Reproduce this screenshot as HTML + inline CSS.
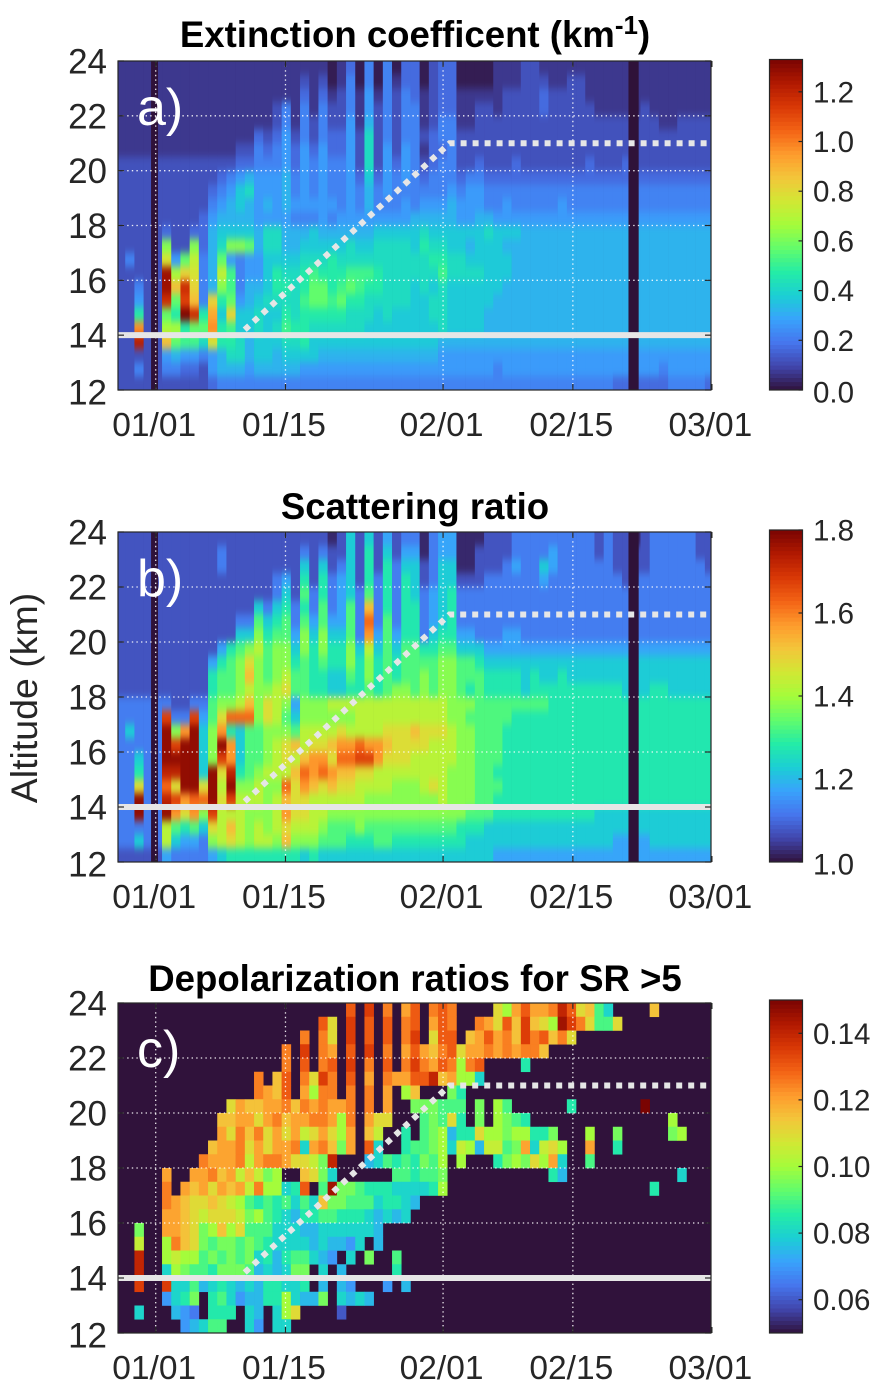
<!DOCTYPE html>
<html lang="en">
<head>
<meta charset="utf-8">
<title>Extinction, scattering ratio and depolarization time-altitude charts</title>
<style>
html,body{margin:0;padding:0;background:#fff;width:880px;height:1389px;overflow:hidden}
svg{display:block;font-family:"Liberation Sans",Arial,sans-serif}
</style>
</head>
<body>
<svg id="figure" xmlns="http://www.w3.org/2000/svg" width="880" height="1389" viewBox="0 0 880 1389"></svg>
<script>
// Colour table sampled from the colorbars
const turboStops = ["#30123b","#4145ab","#4675ed","#39a2fc","#1bcfd4","#24eca6","#61fc6c","#a4fc3b","#d1e834","#f3c63a","#fe9b2d","#f36315","#d93806","#b11901","#7a0402"];
// Axis labels
const dayTickLabels = ["01/01","01/15","02/01","02/15","03/01"];
const dayTickValues = [0,14,31,45,60];
const altitudeTicks = [12,14,16,18,20,22,24];
const gridAltitudes = [16,18,20,22];
// Overlay lines
const referenceAltitude = 14;
const plumeDays = [9.6,31.7,60];
const plumeAltitudes = [14.2,21,21];
// Instrument gaps, in days since 01/01
const gapStartDays = [-0.5,51];
const gapEndDays = [0.25,52.1];
// Heat-map values: rows run from 24 km down to 12 km in 0.5 km steps, columns are daily.
// Value = level × unit + offset.
const extinctionLevels = [
[2,2,2,2,2,2,2,2,2,2,2,2,2,2,2,2,2,2,2,2,2,2,2,1,2,4,1,5,1,5,1,4,4,1,3,4,4,1,1,1,1,2,2,2,3,3,2,2,2,2,2,2,2,2,2,2,2,2,2,2,2,2,2,2,2],
[2,2,2,2,2,2,2,2,2,2,2,2,2,2,2,2,2,2,2,2,3,2,3,1,2,5,1,5,1,5,2,4,4,1,3,4,4,1,1,1,1,2,2,2,3,3,3,2,2,3,3,2,2,2,2,2,2,2,2,2,2,2,2,2,2],
[2,2,2,2,2,2,2,2,2,2,2,2,2,2,2,2,2,2,2,2,4,2,4,2,3,5,2,6,2,5,3,5,4,2,3,4,4,2,2,2,2,2,3,3,3,3,4,3,3,3,3,2,2,2,2,2,2,2,2,2,2,2,2,2,2],
[2,2,2,2,2,2,2,2,2,2,2,2,2,2,2,2,2,3,5,2,5,2,5,3,3,5,2,6,3,5,3,5,5,2,3,4,4,2,2,3,3,2,3,3,3,3,4,3,3,3,3,3,2,2,2,2,2,3,2,2,2,2,2,2,2],
[2,2,2,2,2,2,2,2,2,2,2,2,2,2,2,2,2,3,5,2,5,3,5,3,3,6,2,7,3,5,3,5,5,2,3,5,5,2,2,3,3,3,3,3,3,3,3,3,3,3,3,3,3,3,3,3,3,3,3,2,2,3,3,3,3],
[2,2,2,2,2,2,2,2,2,2,2,2,2,2,2,4,3,4,6,3,5,3,5,4,4,6,3,9,3,5,3,5,5,3,4,5,5,3,3,3,3,3,3,3,3,3,3,3,3,3,3,3,3,3,3,3,3,3,3,3,3,3,3,3,3],
[2,2,2,2,2,2,2,2,2,2,2,2,2,3,3,5,4,5,6,4,6,4,6,4,4,6,3,9,3,6,3,6,5,2,4,4,5,3,3,3,3,3,3,3,3,3,3,3,3,3,3,3,3,3,3,3,3,3,3,3,3,3,3,3,3],
[3,3,3,3,3,3,3,3,3,3,3,3,3,4,4,5,5,5,6,4,6,5,6,5,5,6,3,9,3,6,4,6,5,3,4,5,5,3,3,4,3,3,3,4,3,3,3,3,3,3,3,4,3,3,3,4,3,3,3,3,3,3,3,3,3],
[3,3,3,3,3,3,3,3,3,3,3,4,5,6,7,6,6,6,7,5,6,5,6,5,5,6,4,8,4,6,5,6,5,4,5,5,5,4,5,5,4,4,4,4,4,4,4,4,4,4,4,4,4,4,4,4,4,4,4,4,4,4,4,4,4],
[3,3,3,3,3,3,3,3,3,3,4,5,6,8,9,6,6,6,7,5,6,5,6,5,5,6,5,7,5,6,5,5,5,5,5,5,6,5,6,6,5,5,5,5,5,5,5,5,5,5,5,5,5,5,5,5,5,5,5,5,5,5,5,5,5],
[3,3,3,3,3,3,3,3,3,3,5,6,7,8,7,6,7,6,7,6,6,6,6,6,5,6,5,7,5,5,5,6,5,6,6,6,7,6,6,6,5,5,6,5,5,5,5,5,6,5,5,5,5,5,5,5,5,5,5,5,5,5,5,5,5],
[3,3,3,3,3,3,3,3,3,4,6,7,7,7,7,6,6,6,6,5,5,5,6,5,6,6,6,6,6,6,6,6,7,7,7,7,7,6,6,7,7,6,6,6,6,6,6,6,6,6,6,6,6,6,6,6,6,6,6,6,6,6,6,6,6],
[3,3,3,3,3,4,3,3,4,4,7,8,8,8,8,7,9,9,7,7,7,8,7,7,7,7,7,7,8,8,8,8,8,9,8,8,8,8,8,8,9,8,8,8,7,7,7,7,7,7,7,7,7,7,7,7,7,7,7,7,7,7,7,7,7],
[3,3,3,3,3,13,3,3,13,4,7,9,13,13,12,7,9,9,7,7,8,8,8,8,8,9,8,8,9,9,9,9,8,10,9,9,8,8,7,8,8,8,7,7,7,7,7,7,7,7,7,7,7,7,7,7,7,7,7,7,7,7,7,7,7],
[3,5,3,3,3,16,6,12,15,5,7,12,6,5,6,6,8,8,8,8,9,9,9,10,9,9,9,9,9,9,9,9,9,9,10,10,9,9,8,8,8,8,8,7,7,7,7,7,7,7,7,7,7,7,7,7,7,7,7,7,7,7,7,7,7],
[3,3,3,3,3,26,14,17,16,5,7,15,11,5,6,6,8,10,9,9,10,11,10,10,10,11,11,11,10,9,9,9,9,9,9,11,9,9,9,9,8,8,8,7,7,7,7,7,7,7,7,7,7,7,7,7,7,7,7,7,7,7,7,7,7],
[3,3,5,3,3,26,18,24,17,5,7,13,11,5,7,7,8,10,10,9,10,12,12,10,11,12,11,10,10,9,9,9,8,9,8,9,8,8,8,8,8,8,7,7,7,7,7,7,7,7,7,7,7,7,7,7,7,7,7,7,7,7,7,7,7],
[3,3,6,3,3,24,12,23,18,5,17,10,12,6,7,8,9,9,9,9,11,12,12,11,12,10,10,9,9,9,9,9,8,8,9,9,8,8,8,8,8,7,7,7,7,7,7,7,7,7,7,7,7,7,7,7,7,7,7,7,7,7,7,7,7],
[3,3,10,3,3,12,10,27,24,10,19,8,17,8,8,9,8,8,10,9,10,10,10,10,10,9,9,9,8,9,8,8,8,8,9,9,8,8,8,8,7,7,7,7,7,7,7,7,7,7,7,7,7,7,7,7,7,7,7,7,7,7,7,7,7],
[3,3,20,3,3,14,14,10,12,12,20,10,11,8,8,9,8,9,11,10,10,9,9,9,9,9,9,8,8,8,8,8,8,8,8,9,8,8,8,8,7,7,7,7,7,7,7,7,7,7,7,7,7,7,7,7,7,7,7,7,7,7,7,7,7],
[3,3,25,3,3,18,12,11,11,9,16,10,10,9,7,8,8,8,9,9,10,8,8,8,8,8,8,8,8,8,8,8,8,8,8,7,7,7,7,7,7,7,7,7,7,7,7,7,7,7,7,7,7,7,7,7,7,7,7,7,7,7,7,7,7],
[3,3,3,3,3,6,7,6,6,5,6,7,9,9,7,8,8,7,8,8,8,8,7,7,7,7,7,7,7,7,7,7,7,7,7,6,6,6,6,6,6,6,6,6,6,6,6,6,6,6,6,6,6,6,6,6,6,6,6,6,6,6,6,6,6],
[3,3,5,3,3,5,5,4,4,3,6,7,7,7,6,7,7,7,7,7,6,6,6,6,6,6,6,6,6,6,6,6,6,6,6,6,6,6,6,6,6,5,6,6,6,6,6,6,6,6,6,6,6,6,6,6,6,6,6,5,6,6,6,6,6],
[3,3,3,3,3,3,3,3,3,3,4,5,5,5,5,5,5,5,5,5,5,5,5,5,5,5,5,5,5,5,5,5,5,5,5,5,5,5,5,5,5,5,5,5,5,5,5,5,5,5,5,5,5,5,4,4,4,4,4,4,5,5,5,5,4]
];
const scatteringLevels = [
[2,2,2,2,2,2,2,2,2,2,2,2,2,2,2,2,2,2,2,2,2,2,2,1,2,5,2,5,2,4,2,3,3,1,3,4,4,1,1,1,2,2,2,3,3,3,3,3,3,3,3,3,2,3,2,2,1,2,3,3,3,3,3,2,2],
[2,2,2,2,2,2,2,2,2,2,2,3,2,2,2,2,2,2,2,2,3,2,3,2,2,5,2,6,2,5,2,4,4,1,3,4,4,1,1,2,2,2,2,3,3,3,3,4,3,3,3,3,2,3,2,2,2,2,3,3,3,3,3,2,2],
[2,2,2,2,2,2,2,2,2,2,2,3,2,2,2,2,2,2,2,2,5,2,5,2,3,5,2,6,2,6,3,5,5,2,3,5,5,1,1,2,2,2,3,4,3,3,5,4,3,3,3,3,3,3,2,2,2,2,3,3,3,3,3,3,2],
[2,2,2,2,2,2,2,2,2,2,2,2,2,2,2,2,2,3,4,2,6,2,6,3,4,5,2,6,3,6,3,6,5,2,3,5,5,2,2,2,3,3,3,3,3,3,4,3,3,3,3,3,3,3,3,2,3,3,3,3,3,3,3,3,3],
[2,2,2,2,2,2,2,2,2,2,2,2,2,2,2,2,2,3,5,2,7,3,6,3,4,5,3,7,3,6,3,6,5,3,4,5,6,3,3,3,3,3,3,3,3,3,3,3,3,3,3,3,3,3,3,3,3,3,3,3,3,3,3,3,3],
[2,2,2,2,2,2,2,2,2,2,2,2,2,2,2,5,3,5,6,3,6,3,7,3,4,7,3,11,3,6,3,6,6,3,4,5,6,3,3,3,3,3,3,3,3,3,3,3,3,3,3,3,3,3,3,3,3,3,3,3,3,3,3,3,3],
[2,2,2,2,2,2,2,2,2,2,2,2,2,3,3,7,5,6,7,3,7,4,7,4,4,7,3,13,3,7,3,6,6,3,4,5,6,3,3,3,3,3,3,3,3,3,3,3,3,3,3,3,3,3,3,3,3,3,3,3,3,3,3,3,3],
[2,2,2,2,2,2,2,2,2,2,2,2,2,5,5,8,6,7,7,4,8,5,8,5,5,7,3,12,4,7,4,6,6,3,5,6,6,4,4,3,3,3,4,4,3,3,3,3,3,3,3,3,3,3,3,3,3,3,3,3,3,3,3,3,3],
[2,2,2,2,2,2,2,2,2,2,2,4,6,7,8,9,7,8,8,5,8,6,8,6,6,8,5,9,5,7,5,7,7,6,6,7,7,5,5,5,4,4,4,4,4,4,4,4,4,4,4,4,4,4,4,4,4,4,4,4,4,4,4,4,4],
[2,2,2,2,2,2,2,2,2,2,4,6,7,8,10,8,7,8,8,6,7,6,7,6,6,8,6,8,6,7,6,7,7,7,7,8,8,7,7,6,5,5,5,5,5,5,5,5,5,5,5,5,5,5,5,5,5,5,5,5,5,5,5,5,5],
[2,2,2,2,2,2,2,2,2,2,6,7,7,8,11,8,7,8,9,7,7,6,6,5,5,7,6,8,6,7,6,7,7,8,7,8,8,7,7,7,6,6,6,6,5,6,5,5,6,5,5,5,5,5,5,5,5,5,5,5,5,5,5,5,5],
[2,2,2,2,2,2,2,2,2,2,6,7,7,8,9,8,8,9,10,7,7,6,6,5,5,6,6,7,6,7,8,8,7,8,7,8,8,7,6,7,6,6,6,6,5,6,6,6,6,6,6,6,6,6,6,5,5,5,6,6,5,5,5,5,5],
[3,3,3,3,3,3,2,2,3,3,7,8,8,9,11,8,10,9,8,4,8,8,8,9,9,9,9,9,9,9,9,9,9,9,9,9,8,8,8,7,7,7,7,7,7,7,7,6,6,6,6,6,6,6,6,6,6,6,6,6,6,6,6,6,6],
[3,3,3,3,3,14,3,3,14,4,7,10,13,13,13,8,10,9,7,5,8,8,8,8,8,8,9,9,9,9,9,9,9,9,9,9,8,8,7,7,7,7,7,6,6,6,6,6,6,6,6,6,6,6,6,6,6,6,6,6,6,6,6,6,6],
[3,5,3,3,3,16,8,12,16,5,8,12,6,5,7,7,8,8,8,7,9,9,9,9,10,9,9,9,9,10,10,10,11,10,10,10,9,8,8,7,7,7,6,6,6,6,6,6,6,6,6,6,6,6,6,6,6,6,6,6,6,6,6,6,6],
[3,3,3,3,3,16,14,16,16,5,8,16,12,5,7,7,8,9,10,11,9,10,10,11,12,12,13,12,12,11,10,10,10,10,9,9,9,8,8,7,7,7,6,6,6,6,6,6,6,6,6,6,6,6,6,6,6,6,6,6,6,6,6,6,6],
[3,3,5,3,3,16,16,16,16,5,8,14,12,5,7,7,8,9,10,9,11,12,12,10,13,13,14,14,12,10,10,10,9,9,9,9,9,8,8,7,7,7,6,6,6,6,6,6,6,6,6,6,6,6,6,6,6,6,6,6,6,6,6,6,6],
[3,3,6,3,3,15,15,16,16,5,16,10,15,6,7,8,9,9,9,11,13,12,13,12,11,11,10,10,9,9,9,9,9,9,9,9,8,8,8,7,7,6,6,6,6,6,6,6,6,6,6,6,6,6,6,6,6,6,6,6,6,6,6,6,6],
[3,3,10,3,3,13,10,16,16,10,16,9,16,8,8,9,8,8,13,10,12,11,10,11,10,10,9,9,9,9,8,8,8,9,10,9,8,8,8,7,7,7,6,6,6,6,6,6,6,6,6,6,6,6,6,6,6,6,6,6,6,6,6,6,6],
[3,3,16,3,3,15,14,12,13,13,16,10,14,9,9,9,8,9,11,10,10,9,9,9,9,9,9,8,8,8,8,8,8,8,8,9,8,8,8,7,7,6,6,6,6,6,6,6,6,6,6,6,6,6,6,6,6,6,6,6,6,6,6,6,6],
[3,3,16,3,3,16,12,10,12,8,14,9,9,9,8,8,8,9,12,10,10,9,9,8,8,8,8,8,8,8,8,8,8,8,8,8,8,8,7,7,7,6,6,6,6,6,6,6,6,6,6,6,5,5,5,5,5,5,5,5,5,5,5,5,5],
[3,3,3,3,3,9,7,6,7,5,10,9,11,9,8,9,8,9,10,9,9,9,8,7,7,7,8,7,7,7,7,7,7,7,7,7,7,6,6,6,5,5,5,5,5,5,5,5,5,5,5,5,5,5,5,5,5,5,5,5,5,5,5,5,5],
[3,3,5,3,3,9,5,4,4,3,8,9,10,9,8,9,9,8,11,8,8,8,7,7,7,6,6,6,7,7,6,6,6,6,6,6,6,6,5,5,5,5,5,5,5,5,5,5,5,5,5,5,5,5,4,4,4,4,5,5,5,5,5,5,5],
[2,2,2,2,2,4,3,3,3,3,4,5,6,6,6,6,6,6,6,6,5,6,5,5,5,5,5,5,5,5,5,5,5,5,5,5,5,5,5,5,5,4,4,4,4,4,4,4,4,4,4,4,4,4,4,4,4,4,4,4,4,4,4,4,4]
];
const depolarizationLevels = [
[0,0,0,0,0,0,0,0,0,0,0,0,0,0,0,0,0,0,0,0,0,0,0,0,0,16,0,17,0,15,0,14,16,0,15,16,15,0,0,0,0,12,10,14,16,14,14,15,18,16,12,13,8,6,0,0,0,0,13],
[0,0,0,0,0,0,0,0,0,0,0,0,0,0,0,0,0,0,0,0,0,0,16,12,0,17,0,16,0,16,0,15,16,0,14,16,15,0,0,15,14,12,16,13,17,13,12,10,19,17,15,12,8,8,12],
[0,0,0,0,0,0,0,0,0,0,0,0,0,0,0,0,0,0,0,0,15,0,15,12,0,17,0,16,0,16,0,15,17,0,12,16,16,0,13,14,16,14,15,13,17,15,16,13,15,12],
[0,0,0,0,0,0,0,0,0,0,0,0,0,0,0,0,0,0,15,0,17,0,15,14,0,16,0,17,0,15,0,14,16,14,13,15,16,12,14,14,15,14,15,14,15,15,13],
[0,0,0,0,0,0,0,0,0,0,0,0,0,0,0,0,0,0,15,0,16,0,15,16,0,17,0,15,0,16,0,15,17,15,14,16,15,10,15,16,0,0,0,0,7],
[0,0,0,0,0,0,0,0,0,0,0,0,0,0,0,15,0,13,16,0,15,12,17,15,0,16,0,14,0,15,14,14,16,16,18,13,14,10,10,6],
[0,0,0,0,0,0,0,0,0,0,0,0,0,0,0,15,14,13,16,0,14,10,15,15,0,15,0,15,0,14,0,10,13,0,0,0,9,7],
[0,0,0,0,0,0,0,0,0,0,0,0,12,14,13,13,14,14,15,13,15,14,15,14,14,15,0,15,0,14,0,0,9,9,9,8,8,8,0,9,0,10,8,0,0,0,0,0,0,7,0,0,0,0,0,0,0,20],
[0,0,0,0,0,0,0,0,0,0,0,13,13,14,14,12,14,15,13,14,14,15,15,14,10,15,0,14,12,12,0,0,0,8,9,8,12,7,0,9,0,10,9,8,7,0,0,0,0,0,0,0,0,0,0,0,0,0,0,0,10],
[0,0,0,0,0,0,0,0,0,0,0,14,12,15,13,15,12,14,12,14,11,12,14,12,10,14,0,13,11,0,0,7,0,8,9,10,5,7,7,12,10,10,9,10,10,7,7,9,0,0,0,10,0,0,9,0,0,0,0,0,9,10],
[0,0,0,0,0,0,0,0,0,0,13,14,14,15,12,14,12,14,14,15,6,14,15,13,9,14,0,16,6,0,0,7,8,8,9,10,6,11,10,5,11,11,8,9,14,6,11,12,10,0,0,14,0,0,7],
[0,0,0,0,0,0,0,0,0,15,14,14,14,15,11,14,15,15,14,12,12,11,9,18,0,0,0,5,6,8,7,8,7,9,8,10,0,10,0,0,0,7,9,10,9,12,10,14,6,0,0,8],
[0,0,0,0,0,14,0,0,14,14,15,13,14,11,13,11,9,10,0,0,13,12,9,6,0,0,0,0,0,0,8,8,7,8,8,9,0,0,0,0,0,0,0,0,0,0,0,7,5,0,0,0,0,0,0,0,0,0,0,0,0,6],
[0,0,0,0,0,15,0,14,13,14,12,14,13,14,11,15,10,10,6,7,16,0,8,19,9,9,8,7,7,7,6,6,6,6,7,10,0,0,0,0,0,0,0,0,0,0,0,0,0,0,0,0,0,0,0,0,0,0,7],
[0,0,0,0,0,15,14,13,12,12,13,12,11,10,8,7,8,7,8,6,8,6,13,9,9,8,8,8,6,7,7,6,5],
[0,0,0,0,0,14,14,13,12,11,12,12,12,11,9,10,8,7,6,5,7,7,8,8,7,7,7,6,5,6,5,6],
[0,0,9,0,0,14,14,13,12,9,10,13,10,12,8,8,8,6,6,6,5,5,6,6,6,6,6,6,5],
[0,0,11,0,0,10,15,13,12,9,8,9,9,8,9,8,7,6,6,6,6,5,6,5,5,4,6,0,5],
[0,0,18,0,0,10,11,10,10,8,9,8,9,8,9,6,7,5,7,8,8,6,5,4,0,6,0,9,0,0,8],
[0,0,18,0,0,6,10,9,8,8,7,9,9,9,8,5,6,5,6,9,9,0,6,0,5,0,0,0,0,0,7],
[0,0,17,0,0,17,6,6,8,5,6,7,6,5,6,5,7,7,6,6,7,0,5,0,5,4,0,0,0,4,0,5],
[0,0,0,0,0,4,6,7,9,0,7,8,6,4,5,5,7,7,10,6,5,5,9,0,6,5,6,5],
[0,0,6,0,0,0,5,4,3,0,7,7,7,0,6,5,0,6,10,12,0,0,0,0,2],
[0,0,0,0,0,0,0,4,5,6,8,8,0,0,6,4,0,6,6]
];
// Panel scales
const extinctionScale = {min:0, max:1.33, unit:0.05, offset:-0.03};
const scatteringScale = {min:1, max:1.8, unit:0.05, offset:0.975};
const depolarizationScale = {min:0.05, max:0.15, unit:0.005, offset:0.05};
const extinctionBarTicks = ["0.0","0.2","0.4","0.6","0.8","1.0","1.2"];
const scatteringBarTicks = ["1.0","1.2","1.4","1.6","1.8"];
const depolarizationBarTicks = ["0.06","0.08","0.10","0.12","0.14"];

const svg = document.getElementById('figure');
const NS = 'http://www.w3.org/2000/svg';
const INK = '#262626';
const LEFT = 118, RIGHT = 711;
const xAxis = day => 155.7 + 9.27 * day;
const COLUMN_START_DAY = -4.28, COLUMN_SPAN_DAYS = 0.9925;

function make(tag, attrs, parent, text){
  const el = document.createElementNS(NS, tag);
  for (const k in attrs) el.setAttribute(k, attrs[k]);
  if (text !== undefined) el.textContent = text;
  parent.appendChild(el);
  return el;
}
function hexToRgb(h){ return [1,3,5].map(i => parseInt(h.substr(i,2),16)); }
function turbo(f){
  f = Math.max(0, Math.min(1, f)) * (turboStops.length - 1);
  const i = Math.min(Math.floor(f), turboStops.length - 2), t = f - i;
  const a = hexToRgb(turboStops[i]), b = hexToRgb(turboStops[i+1]);
  return 'rgb(' + a.map((v,k) => Math.round(v + (b[k]-v)*t)).join(',') + ')';
}

function drawPanel(cfg){
  const top = cfg.top, bottom = cfg.bottom;
  const yAxis = alt => bottom - (alt - 12) * (bottom - top) / 12;
  const g = make('g', {}, svg);
  
  
  const clipId = cfg.name + '-clip';
  const defs = make('defs', {}, g);
  const clip = make('clipPath', {id: clipId}, defs);
  make('rect', {x: LEFT, y: top, width: RIGHT - LEFT, height: bottom - top}, clip);
  if (cfg.smooth) {
    const filter = make('filter', {id: cfg.name + '-smooth', filterUnits: 'userSpaceOnUse', x: LEFT - 30, y: top - 40, width: RIGHT - LEFT + 60, height: bottom - top + 80, 'color-interpolation-filters': 'sRGB'}, defs);
    make('feGaussianBlur', {stdDeviation: '0.2 4'}, filter);
  }

  const title = make('text', {x: cfg.titleX, y: cfg.titleY, 'text-anchor': 'middle', 'font-size': cfg.titleSize, 'font-weight': 'bold', fill: '#000'}, g);
  
  
  title.appendChild(document.createTextNode(cfg.title));
  if (cfg.titleSup) {
    make('tspan', {dy: -13, 'font-size': 26}, title, cfg.titleSup);
    make('tspan', {dy: 13}, title, ')');
  }

  const plot = make('g', {'clip-path': 'url(#' + clipId + ')'}, g);
  
  
  const bg = make('rect', {x: LEFT, y: top, width: RIGHT - LEFT, height: bottom - top, fill: turboStops[0]}, plot);
  
  

  const scale = cfg.scale;
  const cells = make('g', cfg.smooth ? {filter: 'url(#' + cfg.name + '-smooth)'} : {}, plot);
  
  
  cfg.levels.forEach((row, r) => {
    const altTop = 24 - r * 0.5, altBottom = altTop - 0.5;
    const padTop = cfg.smooth && r === 0 ? 30 : 0;
    const padBottom = cfg.smooth && r === cfg.levels.length - 1 ? 30 : 0;
    row.forEach((level, c) => {
      if (cfg.zeroIsEmpty && level === 0) return;
      const value = scale.offset + level * scale.unit;
      const x0 = xAxis(COLUMN_START_DAY + c * COLUMN_SPAN_DAYS);
      const x1 = xAxis(COLUMN_START_DAY + (c + 1) * COLUMN_SPAN_DAYS);
      const cell = make('rect', {x: x0.toFixed(2), y: (yAxis(altTop) - padTop).toFixed(2), width: (x1 - x0 + 0.3).toFixed(2), height: (yAxis(altBottom) - yAxis(altTop) + 0.3 + padTop + padBottom).toFixed(2), fill: turbo((value - scale.min) / (scale.max - scale.min))}, cells);
      
      
    });
  });

  if (cfg.showGaps) {
    gapStartDays.forEach((d, i) => {
      const gap = make('rect', {x: xAxis(d), y: top, width: xAxis(gapEndDays[i]) - xAxis(d), height: bottom - top, fill: '#2f1239'}, plot);
      
      
    });
  }

  gridAltitudes.forEach(a => {
    const line = make('line', {x1: LEFT, x2: RIGHT, y1: yAxis(a), y2: yAxis(a), stroke: '#fff', 'stroke-width': 1.3, 'stroke-dasharray': '1.4 3.2', opacity: 0.9}, plot);
    
    
  });
  dayTickValues.slice(0, 4).forEach(d => {
    const line = make('line', {x1: xAxis(d), x2: xAxis(d), y1: top, y2: bottom, stroke: '#fff', 'stroke-width': 1.3, 'stroke-dasharray': '1.4 3.2', opacity: 0.9}, plot);
    
    
  });

  const ref = make('line', {x1: LEFT, x2: RIGHT, y1: yAxis(referenceAltitude), y2: yAxis(referenceAltitude), stroke: '#e6e6e6', 'stroke-width': 6}, plot);
  
  
  const pts = plumeDays.map((d, i) => xAxis(d).toFixed(1) + ',' + yAxis(plumeAltitudes[i]).toFixed(1)).join(' ');
  const plume = make('polyline', {points: pts, fill: 'none', stroke: '#e6e6e6', 'stroke-width': 6, 'stroke-dasharray': '6 6'}, plot);
  
  

  const box = make('rect', {x: LEFT, y: top, width: RIGHT - LEFT, height: bottom - top, fill: 'none', stroke: INK, 'stroke-width': 1.2}, g);
  
  

  altitudeTicks.forEach(a => {
    const y = yAxis(a);
    const t1 = make('line', {x1: LEFT, x2: LEFT + 6, y1: y, y2: y, stroke: INK, 'stroke-width': 1.2}, g);
    
    
    const t2 = make('line', {x1: RIGHT - 6, x2: RIGHT, y1: y, y2: y, stroke: INK, 'stroke-width': 1.2}, g);
    
    
    const label = make('text', {x: 107, y: y + 12.5 + (a === 12 ? 2 : 0), 'text-anchor': 'end', 'font-size': 35, fill: INK}, g, String(a));
    
    
  });
  dayTickValues.forEach((d, i) => {
    const x = xAxis(d);
    const t1 = make('line', {x1: x, x2: x, y1: bottom - 6, y2: bottom, stroke: INK, 'stroke-width': 1.2}, g);
    
    
    const t2 = make('line', {x1: x, x2: x, y1: top, y2: top + 6, stroke: INK, 'stroke-width': 1.2}, g);
    
    
    const label = make('text', {x: x - 1.5, y: bottom + 46, 'text-anchor': 'middle', 'font-size': 33.5, fill: INK}, g, dayTickLabels[i]);
    
    
  });

  const tag = make('text', {x: 137, y: top + 64, 'font-size': 52, fill: '#fff'}, g, cfg.tag);
  
  

  // colorbar
  const barX = 769.5, barW = 33, barTop = cfg.barTop, barBottom = bottom;
  const steps = 80;
  const cb = make('g', {}, g);
  
  
  for (let i = 0; i < steps; i++) {
    const h = (barBottom - barTop) / steps;
    const swatch = make('rect', {x: barX, y: (barBottom - (i + 1) * h).toFixed(2), width: barW, height: (h + 0.4).toFixed(2), fill: turbo((i + 0.5) / steps)}, cb);
    
    
  }
  const cbBox = make('rect', {x: barX, y: barTop, width: barW, height: barBottom - barTop, fill: 'none', stroke: INK, 'stroke-width': 1.2}, cb);
  
  
  cfg.barTicks.forEach(labelText => {
    const v = parseFloat(labelText);
    const y = barBottom - (v - scale.min) / (scale.max - scale.min) * (barBottom - barTop);
    const tick = make('line', {x1: barX + barW - 4, x2: barX + barW, y1: y, y2: y, stroke: INK, 'stroke-width': 1.2}, cb);
    
    
    const label = make('text', {x: 813, y: y + 10.5 + (y > barBottom - 2 ? 2 : 0), 'font-size': 29.5, fill: INK}, cb, labelText);
    
    
  });
}

drawPanel({name:'extinction', top:61, bottom:390, barTop:59.5, title:'Extinction coefficent (km', titleSup:'-1', titleX:415, titleY:47, titleSize:36.6, tag:'a)', levels:extinctionLevels, scale:extinctionScale, barTicks:extinctionBarTicks, showGaps:true, smooth:true});
drawPanel({name:'scattering', top:532, bottom:862, barTop:530, title:'Scattering ratio', titleX:415, titleY:519, titleSize:36.6, tag:'b)', levels:scatteringLevels, scale:scatteringScale, barTicks:scatteringBarTicks, showGaps:true, smooth:true});
drawPanel({name:'depolarization', top:1003, bottom:1333, barTop:1000, title:'Depolarization ratios for SR >5', titleX:415, titleY:991, titleSize:36.6, tag:'c)', levels:depolarizationLevels, scale:depolarizationScale, barTicks:depolarizationBarTicks, showGaps:false, zeroIsEmpty:true});

const yTitle = make('text', {x: 0, y: 0, transform: 'translate(37,698) rotate(-90)', 'text-anchor': 'middle', 'font-size': 37.5, fill: INK}, svg, 'Altitude (km)');


</script>
</body>
</html>
